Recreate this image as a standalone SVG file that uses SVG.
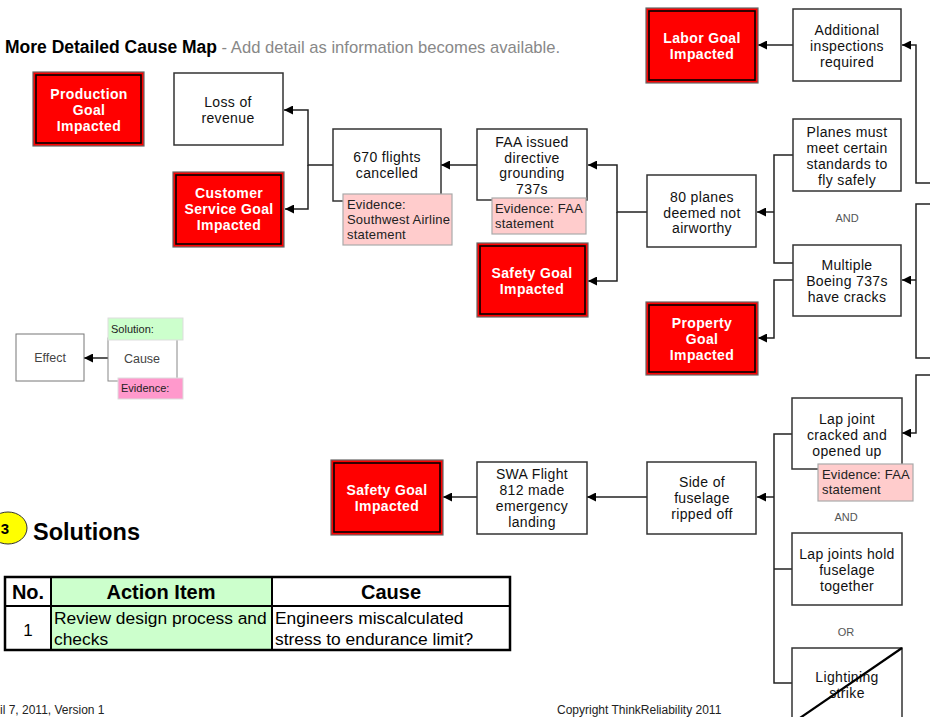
<svg xmlns="http://www.w3.org/2000/svg" width="930" height="717" viewBox="0 0 930 717">
<defs>
<style>
text{font-family:"Liberation Sans",Arial,sans-serif;}
.box{fill:#fff;stroke:#333;stroke-width:1.5;}
.goal-o{fill:#ff0000;stroke:#666;stroke-width:1.2;}
.goal-i{fill:none;stroke:#000;stroke-width:1.6;}
.t{font-size:14px;letter-spacing:0.35px;fill:#111;text-anchor:middle;}
.gt{font-size:14px;letter-spacing:0.35px;fill:#fff;font-weight:bold;text-anchor:middle;}
.ev{fill:#ffcccc;stroke:#aaa;stroke-width:1.2;}
.evt{font-size:13px;letter-spacing:0.2px;fill:#222;}
.op{font-size:11px;fill:#555;text-anchor:middle;}
.conn{fill:none;stroke:#222;stroke-width:1.5;}
.tbl{fill:none;stroke:#000;stroke-width:2.5;}
</style>
<marker id="arr" viewBox="0 0 10 10" refX="10" refY="5" markerWidth="9" markerHeight="9" markerUnits="userSpaceOnUse" orient="auto">
<path d="M0,0 L10,5 L0,10 z" fill="#000"/>
</marker>
</defs>
<rect width="930" height="717" fill="#fff"/>

<g id="title">
<text x="5" y="53" style="font-size:17.5px;font-weight:bold;fill:#000">More Detailed Cause Map<tspan style="font-weight:normal;fill:#888;font-size:16.6px"> - Add detail as information becomes available.</tspan></text>
</g>

<g id="connectors">
<path class="conn" d="M333,165 H308 V110 H284" marker-end="url(#arr)"/>
<path class="conn" d="M308,165 V209 H285" marker-end="url(#arr)"/>
<path class="conn" d="M477,165 H441" marker-end="url(#arr)"/>
<path class="conn" d="M647,212 H617 V165 H588" marker-end="url(#arr)"/>
<path class="conn" d="M617,212 V281 H588" marker-end="url(#arr)"/>
<path class="conn" d="M793,45 H758" marker-end="url(#arr)"/>
<path class="conn" d="M793,155 H774 V263 H793"/>
<path class="conn" d="M774,212 H757" marker-end="url(#arr)"/>
<path class="conn" d="M793,280 H774 V338 H758" marker-end="url(#arr)"/>
<path class="conn" d="M930,183 H916 V45 H902" marker-end="url(#arr)"/>
<path class="conn" d="M930,204 H916 V358 H930"/>
<path class="conn" d="M916,280 H902" marker-end="url(#arr)"/>
<path class="conn" d="M930,375 H916 V433 H902" marker-end="url(#arr)"/>
<path class="conn" d="M477,497 H443" marker-end="url(#arr)"/>
<path class="conn" d="M647,497 H587" marker-end="url(#arr)"/>
<path class="conn" d="M792,434 H774 V683 H792"/>
<path class="conn" d="M774,569 H792"/>
<path class="conn" d="M774,497 H757" marker-end="url(#arr)"/>
<path class="conn" d="M108,358 H84" marker-end="url(#arr)"/>
</g>

<g id="production-goal">
<rect class="goal-o" x="33" y="72" width="111" height="74"/>
<rect class="goal-i" x="36" y="75" width="105" height="68"/>
<text class="gt"><tspan x="89" y="99">Production</tspan><tspan x="89" y="115">Goal</tspan><tspan x="89" y="131">Impacted</tspan></text>
</g>

<g id="loss-of-revenue">
<rect class="box" x="174" y="73" width="109" height="72"/>
<text class="t"><tspan x="228" y="107">Loss of</tspan><tspan x="228" y="123">revenue</tspan></text>
</g>

<g id="customer-goal">
<rect class="goal-o" x="173" y="172" width="111" height="75"/>
<rect class="goal-i" x="176" y="175" width="105" height="69"/>
<text class="gt"><tspan x="229" y="198">Customer</tspan><tspan x="229" y="214">Service Goal</tspan><tspan x="229" y="230">Impacted</tspan></text>
</g>

<g id="flights-cancelled">
<rect class="box" x="333" y="129" width="108" height="72"/>
<text class="t"><tspan x="387" y="162">670 flights</tspan><tspan x="387" y="178">cancelled</tspan></text>
<rect class="ev" x="343" y="194" width="109" height="51"/>
<text class="evt"><tspan x="347" y="209">Evidence:</tspan><tspan x="347" y="224">Southwest Airline</tspan><tspan x="347" y="239">statement</tspan></text>
</g>

<g id="faa-directive">
<rect class="box" x="477" y="129" width="110" height="71"/>
<text class="t"><tspan x="532" y="147">FAA issued</tspan><tspan x="532" y="162.5">directive</tspan><tspan x="532" y="178">grounding</tspan><tspan x="532" y="193.5">737s</tspan></text>
<rect class="ev" x="492" y="198" width="94" height="36"/>
<text class="evt"><tspan x="495" y="213">Evidence: FAA</tspan><tspan x="495" y="228">statement</tspan></text>
</g>

<g id="safety-goal-1">
<rect class="goal-o" x="477" y="243" width="111" height="74"/>
<rect class="goal-i" x="480" y="246" width="105" height="68"/>
<text class="gt"><tspan x="532" y="278">Safety Goal</tspan><tspan x="532" y="294">Impacted</tspan></text>
</g>

<g id="labor-goal">
<rect class="goal-o" x="646" y="8" width="112" height="75"/>
<rect class="goal-i" x="649" y="11" width="106" height="69"/>
<text class="gt"><tspan x="702" y="43">Labor Goal</tspan><tspan x="702" y="59">Impacted</tspan></text>
</g>

<g id="additional-inspections">
<rect class="box" x="793" y="9" width="108" height="72"/>
<text class="t"><tspan x="847" y="35">Additional</tspan><tspan x="847" y="51">inspections</tspan><tspan x="847" y="66.5">required</tspan></text>
</g>

<g id="planes-standards">
<rect class="box" x="793" y="119" width="108" height="72"/>
<text class="t"><tspan x="847" y="137">Planes must</tspan><tspan x="847" y="153">meet certain</tspan><tspan x="847" y="169">standards  to</tspan><tspan x="847" y="185">fly safely</tspan></text>
</g>

<text class="op" x="847" y="222">AND</text>

<g id="planes-not-airworthy">
<rect class="box" x="647" y="175" width="109" height="72"/>
<text class="t"><tspan x="702" y="202">80 planes</tspan><tspan x="702" y="217.5">deemed not</tspan><tspan x="702" y="233">airworthy</tspan></text>
</g>

<g id="boeing-cracks">
<rect class="box" x="793" y="245" width="108" height="71"/>
<text class="t"><tspan x="847" y="270">Multiple</tspan><tspan x="847" y="286">Boeing 737s</tspan><tspan x="847" y="301.5">have cracks</tspan></text>
</g>

<g id="property-goal">
<rect class="goal-o" x="646" y="302" width="112" height="73"/>
<rect class="goal-i" x="649" y="305" width="106" height="67"/>
<text class="gt"><tspan x="702" y="328">Property</tspan><tspan x="702" y="344">Goal</tspan><tspan x="702" y="360">Impacted</tspan></text>
</g>

<g id="legend">
<rect x="16" y="334" width="68" height="47" fill="#fff" stroke="#777" stroke-width="1"/>
<text x="50" y="362" style="font-size:12.5px;fill:#444;text-anchor:middle">Effect</text>
<rect x="108" y="338" width="69" height="43" fill="#fff" stroke="#888" stroke-width="1"/>
<text x="142" y="363" style="font-size:12.5px;fill:#444;text-anchor:middle">Cause</text>
<rect x="108" y="318" width="75" height="22" fill="#ccffcc" stroke="#ddd" stroke-width="1"/>
<text x="111" y="333" style="font-size:11px;fill:#222">Solution:</text>
<rect x="118" y="378" width="65" height="21" fill="#ff99cc" stroke="#ddd" stroke-width="1"/>
<text x="121" y="392" style="font-size:11px;fill:#222">Evidence:</text>
</g>

<g id="safety-goal-2">
<rect class="goal-o" x="331" y="460" width="112" height="75"/>
<rect class="goal-i" x="334" y="463" width="106" height="69"/>
<text class="gt"><tspan x="387" y="495">Safety Goal</tspan><tspan x="387" y="511">Impacted</tspan></text>
</g>

<g id="emergency-landing">
<rect class="box" x="477" y="462" width="110" height="72"/>
<text class="t"><tspan x="532" y="479">SWA Flight</tspan><tspan x="532" y="495">812 made</tspan><tspan x="532" y="511">emergency</tspan><tspan x="532" y="527">landing</tspan></text>
</g>

<g id="fuselage-ripped">
<rect class="box" x="647" y="462" width="109" height="72"/>
<text class="t"><tspan x="702" y="487">Side of</tspan><tspan x="702" y="503">fuselage</tspan><tspan x="702" y="519">ripped off</tspan></text>
</g>

<g id="lap-joint-cracked">
<rect class="box" x="792" y="398" width="110" height="71"/>
<text class="t"><tspan x="847" y="424">Lap joint</tspan><tspan x="847" y="440">cracked and</tspan><tspan x="847" y="456">opened up</tspan></text>
<rect class="ev" x="818" y="464" width="95" height="37"/>
<text class="evt"><tspan x="822" y="479">Evidence: FAA</tspan><tspan x="822" y="494">statement</tspan></text>
</g>

<text class="op" x="846" y="521">AND</text>

<g id="lap-joints-hold">
<rect class="box" x="792" y="533" width="110" height="72"/>
<text class="t"><tspan x="847" y="559">Lap joints hold</tspan><tspan x="847" y="575">fuselage</tspan><tspan x="847" y="591">together</tspan></text>
</g>

<text class="op" x="846" y="636">OR</text>

<g id="lightning-strike">
<rect class="box" x="792" y="648" width="110" height="80"/>
<text class="t"><tspan x="847" y="682">Lightining</tspan><tspan x="847" y="698">strike</tspan></text>
<line x1="902" y1="648" x2="797" y2="720" stroke="#000" stroke-width="2.2"/>
</g>

<g id="solutions-heading">
<ellipse cx="8" cy="528" rx="19" ry="16" fill="#ffff00" stroke="#333" stroke-width="1"/>
<text x="5" y="534" style="font-size:15px;font-weight:bold;fill:#000;text-anchor:middle">3</text>
<text x="33" y="540" style="font-size:23.5px;font-weight:bold;fill:#000">Solutions</text>
</g>

<g id="solutions-table">
<rect x="51" y="577" width="221" height="73" fill="#ccffcc"/>
<rect class="tbl" x="5" y="577" width="505" height="73"/>
<line x1="5" y1="606" x2="510" y2="606" stroke="#000" stroke-width="2"/>
<line x1="51" y1="577" x2="51" y2="650" stroke="#000" stroke-width="2"/>
<line x1="272" y1="577" x2="272" y2="650" stroke="#000" stroke-width="2"/>
<text x="28" y="599" style="font-size:20px;font-weight:bold;text-anchor:middle">No.</text>
<text x="161" y="599" style="font-size:20px;font-weight:bold;text-anchor:middle">Action Item</text>
<text x="391" y="599" style="font-size:20px;font-weight:bold;text-anchor:middle">Cause</text>
<text x="28" y="636" style="font-size:17px;text-anchor:middle">1</text>
<text style="font-size:17.4px"><tspan x="54" y="624">Review design process and</tspan><tspan x="54" y="645">checks</tspan></text>
<text style="font-size:17.4px"><tspan x="275" y="624">Engineers miscalculated</tspan><tspan x="275" y="645">stress to endurance limit?</tspan></text>
</g>

<g id="footer">
<text x="0" y="714" style="font-size:12px;fill:#222">il 7, 2011, Version 1</text>
<text x="557" y="714" style="font-size:12px;fill:#222">Copyright ThinkReliability 2011</text>
</g>
</svg>
